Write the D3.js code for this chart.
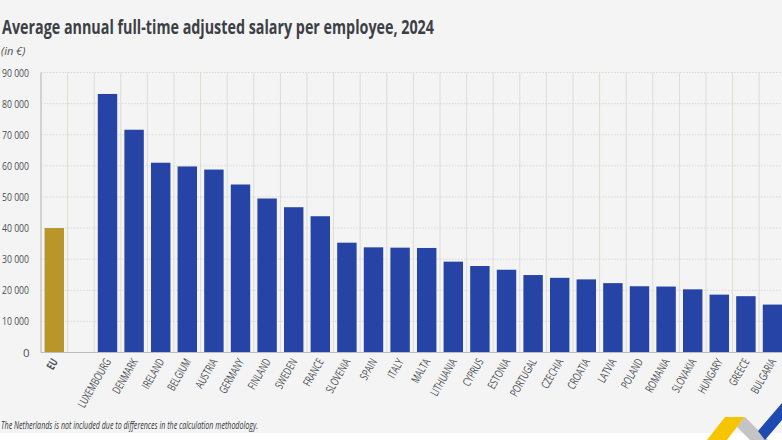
<!DOCTYPE html>
<html lang="en">
<head>
  <meta charset="UTF-8" />
  <title>Average annual full-time adjusted salary per employee, 2024</title>
  <style>
    html, body { margin:0; padding:0; background:#f4f4f4; overflow:hidden; }
    svg { display:block; font-family:"Open Sans", sans-serif; }
    .tick-x { font-size:11.5px; fill:#4b4f55; }
    .tick-y { font-size:11.5px; fill:#4b4f55; }
  </style>
</head>
<body>
  <svg id="chart" width="782" height="440"></svg>
  <script src="https://d3js.org/d3.v7.min.js"></script>
  <script>
  // Data
  const categories = ["EU","","LUXEMBOURG","DENMARK","IRELAND","BELGIUM","AUSTRIA","GERMANY","FINLAND","SWEDEN","FRANCE","SLOVENIA","SPAIN","ITALY","MALTA","LITHUANIA","CYPRUS","ESTONIA","PORTUGAL","CZECHIA","CROATIA","LATVIA","POLAND","ROMANIA","SLOVAKIA","HUNGARY","GREECE","BULGARIA"];
  const salaries = [40000,null,83100,71600,61000,59800,58800,54000,49500,46700,43800,35300,33800,33700,33600,29200,27800,26600,24900,24000,23500,22300,21300,21200,20300,18600,18100,15400];
  const yTicks = [0,10000,20000,30000,40000,50000,60000,70000,80000,90000];

  const svg = d3.select('#chart');
  const plotLeft = 41, plotRight = 785.8, plotTop = 72.5, plotBottom = 352.5;

  const x = d3.scaleBand().domain(d3.range(categories.length)).range([plotLeft, plotRight]).paddingInner(0.27).paddingOuter(0.135);
  const y = d3.scaleLinear().domain([0, 90000]).range([plotBottom, plotTop]);
  const fmt = v => d3.format(',')(v).replace(/,/g, ' ');

  // White strip along the bottom edge
  svg.append('rect').attr('x',0).attr('y',433).attr('width',782).attr('height',7).attr('fill','#fff');

  // Vertical gridlines between bands
  const step = x.step();
  d3.range(categories.length).forEach(i => {
    const gx = x(i) - x.paddingInner()*step/2;
    svg.append('line').attr('x1',gx).attr('x2',gx).attr('y1',plotTop).attr('y2',plotBottom)
      .attr('stroke','#dfdcd6').attr('stroke-width',1);
  });

  // Horizontal gridlines
  svg.append('g').selectAll('line').data(yTicks.filter(d => d > 0)).join('line')
    .attr('x1',plotLeft).attr('x2',782).attr('y1',d => y(d)).attr('y2',d => y(d))
    .attr('stroke','#d2d2d2').attr('stroke-width',0.8).attr('stroke-dasharray','1.5 1.5');

  // Bars
  svg.append('g').selectAll('rect').data(salaries.map((v,i) => ({v,i})).filter(d => d.v !== null)).join('rect')
    .attr('x',d => x(d.i)).attr('width',x.bandwidth())
    .attr('y',d => y(d.v)).attr('height',d => plotBottom - y(d.v))
    .attr('fill',d => d.i === 0 ? '#b8962a' : '#2644a5');

  // Axis lines
  svg.append('line').attr('x1',plotLeft).attr('x2',782).attr('y1',plotBottom).attr('y2',plotBottom).attr('stroke','#bdbdbd');
  svg.append('line').attr('x1',plotLeft).attr('x2',plotLeft).attr('y1',plotTop).attr('y2',plotBottom).attr('stroke','#bdbdbd');

  // Y tick labels
  svg.append('g').selectAll('text').data(yTicks).join('text')
    .attr('class','tick-y')
    .attr('x',d => d === 0 ? 23 : 2)
    .attr('y',d => y(d) + 4)
    .attr('textLength',d => d === 0 ? null : 27)
    .attr('lengthAdjust','spacingAndGlyphs')
    .text(fmt);

  // X tick labels, rotated
  svg.append('g').selectAll('text').data(categories.map((c,i) => ({c,i})).filter(d => d.c)).join('text')
    .attr('class','tick-x')
    .attr('text-anchor','end')
    .attr('transform',d => `translate(${x(d.i)+x.bandwidth()/2+4},${plotBottom+9}) rotate(-60) scale(0.7,1)`)
    .attr('font-weight',d => d.i === 0 ? 'bold' : 'normal')
    .text(d => d.c);

  // Title, unit and note
  svg.append('text').attr('x',2).attr('y',34).attr('font-size',20).attr('font-weight',700).attr('fill','#3c4046')
    .attr('textLength',432).attr('lengthAdjust','spacingAndGlyphs')
    .text('Average annual full-time adjusted salary per employee, 2024');
  svg.append('text').attr('x',1).attr('y',55).attr('font-size',11).attr('font-style','italic').attr('fill','#4b4f55').text('(in €)');
  svg.append('text').attr('x',1).attr('y',429).attr('font-size',11).attr('font-style','italic').attr('fill','#33363b')
    .attr('textLength',257).attr('lengthAdjust','spacingAndGlyphs')
    .text('The Netherlands is not included due to differences in the calculation methodology.');

  // Corner logo
  const logo = svg.append('g');
  logo.append('path').attr('d','M707 440 L725 417 L745 417 L733 432 L727 440 Z').attr('fill','#f6c500');
  logo.append('path').attr('d','M737 427 L745 417 L768 440 L750 440 Z').attr('fill','#c4c4c4');
  logo.append('path').attr('d','M758 431 L782 403 L782 420 L765 440 Z').attr('fill','#1f4bb0');
  </script>
</body>
</html>
